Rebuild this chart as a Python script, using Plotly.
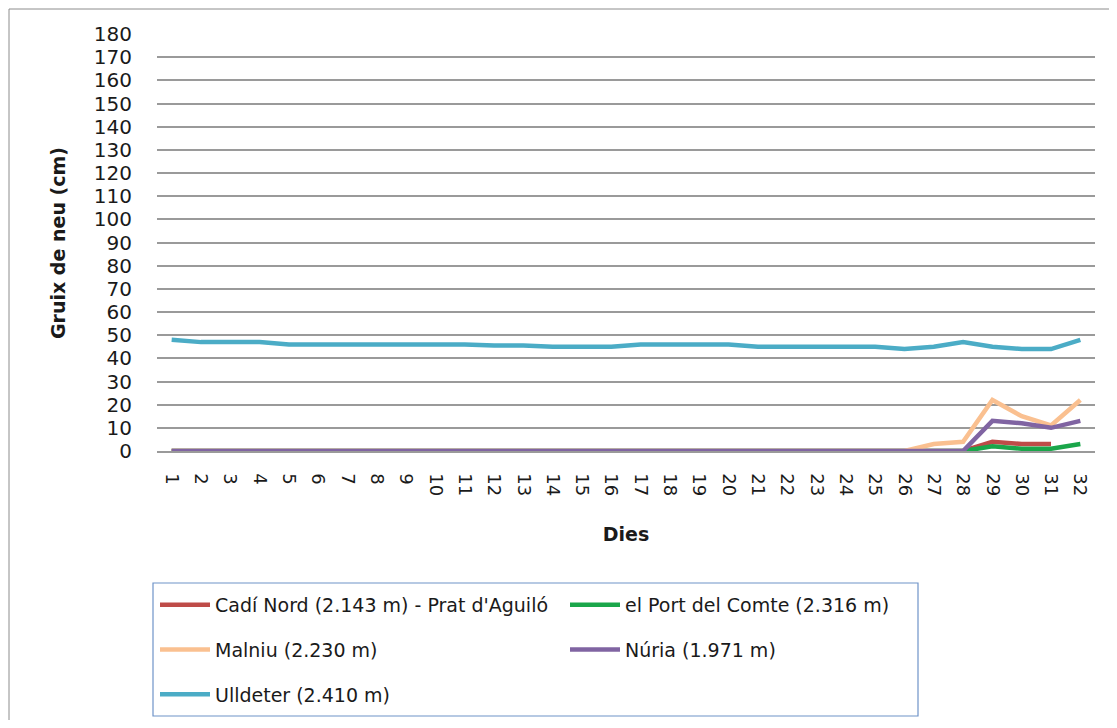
import plotly.graph_objects as go

# ---- data ----
days = [str(d) for d in range(1, 33)]

cadi_nord = [0]*28 + [4, 3, 3, None]
port_comte = [0]*28 + [2, 1, 1, 3]
malniu = [0]*26 + [3, 4, 22, 15, 11, 22]
nuria = [0]*28 + [13, 12, 10, 13]
ulldeter = [48, 47, 47, 47, 46, 46, 46, 46, 46, 46, 46, 45.5, 45.5, 45, 45, 45,
            46, 46, 46, 46, 45, 45, 45, 45, 45, 44, 45, 47, 45, 44, 44, 48]

series_names = ["Cadí Nord (2.143 m) - Prat d'Aguiló", "el Port del Comte (2.316 m)",
                "Malniu (2.230 m)", "Núria (1.971 m)", "Ulldeter (2.410 m)"]
series_values = [cadi_nord, port_comte, malniu, nuria, ulldeter]
series_colors = ["#BE4B48", "#1AA64A", "#FAC090", "#8064A2", "#4BACC6"]
series_legend = ["legend", "legend2", "legend", "legend2", "legend"]

y_ticks = list(range(0, 190, 10))

FONT = "DejaVu Sans"
TXT = "#1a1a1a"
OFF = 8                       # page offset of the plot div (body margin)
W, H = 1117 - 2 * OFF, 728 - 2 * OFF
# plot area in page coordinates
PX0, PX1, PY0, PY1 = 157, 1095, 34, 451
L, R, T, B = PX0 - OFF, W - (PX1 - OFF), PY0 - OFF, H - (PY1 - OFF)
pw, ph = PX1 - PX0, PY1 - PY0

def px_x(x):       # page x -> paper x
    return (x - PX0) / pw

def px_y(y):       # page y -> paper y
    return (PY1 - y) / ph

def cx(x):         # page x -> container fraction
    return (x - OFF) / W

def cy(y):         # page y -> container fraction
    return 1 - (y - OFF) / H

fig = go.Figure()
for i, (name, vals, col, lg) in enumerate(zip(series_names, series_values, series_colors, series_legend)):
    fig.add_trace(go.Scatter(
        x=days, y=vals, name=name, mode="lines",
        line=dict(color=col, width=4.5),
        legend=lg, legendgroup=f"g{i}",
    ))

legend_common = dict(
    orientation="v", xref="container", yref="container", yanchor="top", xanchor="left",
    font=dict(family=FONT, size=19, color=TXT), bgcolor="rgba(0,0,0,0)",
    borderwidth=0, itemwidth=50, tracegroupgap=17, traceorder="grouped",
)

fig.update_layout(
    width=W, height=H,
    margin=dict(l=L, r=R, t=T, b=B, autoexpand=False),
    paper_bgcolor="white", plot_bgcolor="white",
    showlegend=True,
    legend=dict(x=cx(155), y=cy(586), **legend_common),
    legend2=dict(x=cx(565), y=cy(586), **legend_common),
    xaxis=dict(
        type="category", range=[-0.5, 31.5], tickangle=90,
        tickfont=dict(family=FONT, size=18, color=TXT),
        showgrid=False, showline=True, linecolor="#9a9a9a", linewidth=1.5,
        ticks="", ticklabelstandoff=17,
        title=dict(text="Dies", font=dict(family=FONT, size=19, color=TXT, weight="bold"), standoff=32),
    ),
    yaxis=dict(
        range=[0, 180], tickvals=y_ticks, ticktext=[str(v) for v in y_ticks],
        tickfont=dict(family=FONT, size=20, color=TXT),
        showgrid=True, gridcolor="#9a9a9a", gridwidth=1.5, zeroline=False, showline=False,
        ticks="", ticklabelstandoff=24,
    ),
    annotations=[
        dict(text="Gruix de neu (cm)", xref="paper", yref="paper",
             x=px_x(58), y=px_y(243), textangle=-90, showarrow=False,
             xanchor="center", yanchor="middle",
             font=dict(family=FONT, size=19, color=TXT, weight="bold")),
    ],
    shapes=[
        # outer chart border
        dict(type="rect", xref="paper", yref="paper",
             x0=px_x(9), x1=px_x(1140), y0=px_y(9), y1=px_y(760),
             line=dict(color="#8c8c8c", width=1), fillcolor="rgba(0,0,0,0)", layer="above"),
        # legend box
        dict(type="rect", xref="paper", yref="paper",
             x0=px_x(153), x1=px_x(918), y0=px_y(583), y1=px_y(716),
             line=dict(color="#6F93C8", width=1.2), fillcolor="rgba(0,0,0,0)"),
    ],
)

fig.write_html("out.html")
